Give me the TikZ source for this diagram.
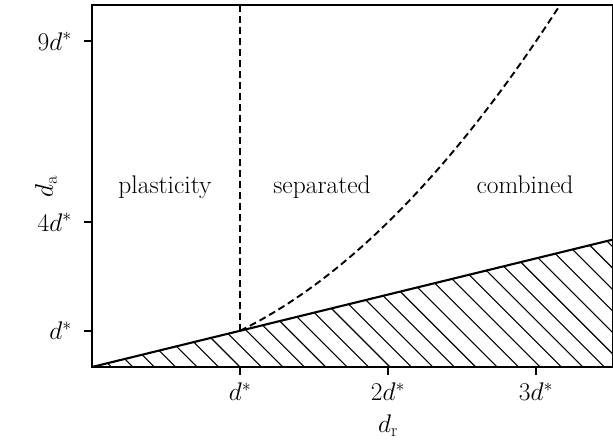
\documentclass[tikz,border=0pt]{standalone}
\usepackage{fix-cm}
\usetikzlibrary{calc}
\begin{document}
\begin{tikzpicture}[x=148pt,y=36.2pt,
  font=\fontsize{25.5}{29}\selectfont,
  frame/.style={line width=2pt},
  tickmark/.style={line width=2pt},
  boundary/.style={line width=2.1pt},
  dashline/.style={line width=1.9pt, dash pattern=on 7pt off 4pt},
  hatchline/.style={line width=1.1pt},
  lbl/.style={inner sep=0pt}]
\useasboundingbox (-92pt,-76pt) rectangle (521pt,367pt);
\coordinate (O) at (0,0);
\coordinate (K) at (1,1);
\coordinate (BR) at (3.5203,0);
\coordinate (R) at (3.5203,3.5203);
\coordinate (TR) at (3.5203,10);
\coordinate (KT) at (1,10);
% hatching
\begin{scope}
  \clip (O) -- (BR) -- (R) -- cycle;
  \foreach \k in {-8,...,25}
    \draw[hatchline] ({148pt+\k*21.43pt},0pt) -- ++(-220pt,220pt);
\end{scope}
% boundary d_a = d_r
\draw[boundary] (O) -- (R);
% dashed boundaries
\draw[dashline] (K) -- (KT);
\draw[dashline] plot[domain=1:3.1623,samples=120,smooth] (\x,{\x*\x});
% frame
\draw[frame] (O) rectangle (TR);
% x ticks
\foreach \x/\l [count=\i] in {1/{d^*},2/{2d^*},3/{3d^*}} {
  \draw[tickmark] (\x,0) -- ++(0,-8pt);
  \node[lbl,anchor=base] (xl\i) at ($(\x,0)+(0,-34pt)$) {$\l$};
}
% y ticks
\foreach \y/\l [count=\i] in {1/{d^*},4/{4d^*},9/{9d^*}} {
  \draw[tickmark] (0,\y) -- ++(-8pt,0);
  \node[lbl,anchor=east] (yl\i) at ($(0,\y)+(-20pt,0)$) {$\l$};
}
% axis labels
\node[lbl,anchor=base] (dr) at ($(2,0)+(0,-66pt)$) {$d_{\mathrm{r}}$};
\node[lbl,rotate=90] (da) at ($(0,4.97)+(-46pt,0)$) {$d_{\mathrm{a}}$};
% region labels
\node[lbl,anchor=base] (plast) at (0.493,4.78) {plasticity};
\node[lbl,anchor=base] (sep) at (1.554,4.78) {separated};
\node[lbl,anchor=base] (comb) at (2.926,4.78) {combined};
\end{tikzpicture}
\end{document}
